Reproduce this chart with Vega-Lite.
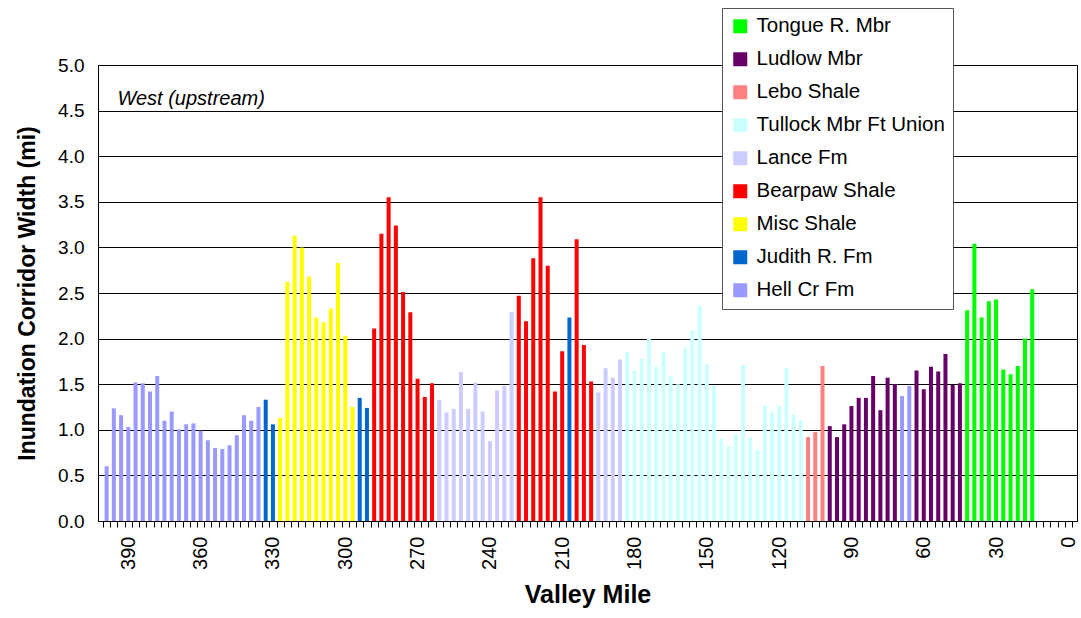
{
  "$schema": "https://vega.github.io/schema/vega-lite/v6.json",
  "width": 979,
  "height": 456,
  "autosize": {"type": "none"},
  "padding": {"left": 98, "top": 65, "right": 4, "bottom": 97},
  "background": "white",
  "config": {
    "font": "Liberation Sans",
    "view": {"stroke": "black", "strokeWidth": 1}
  },
  "datasets": {
    "bars": [
      {"mile": 399, "width": 0.60, "unit": "Hell Cr Fm"},
      {"mile": 396, "width": 1.235, "unit": "Hell Cr Fm"},
      {"mile": 393, "width": 1.16, "unit": "Hell Cr Fm"},
      {"mile": 390, "width": 1.03, "unit": "Hell Cr Fm"},
      {"mile": 387, "width": 1.52, "unit": "Hell Cr Fm"},
      {"mile": 384, "width": 1.51, "unit": "Hell Cr Fm"},
      {"mile": 381, "width": 1.42, "unit": "Hell Cr Fm"},
      {"mile": 378, "width": 1.59, "unit": "Hell Cr Fm"},
      {"mile": 375, "width": 1.10, "unit": "Hell Cr Fm"},
      {"mile": 372, "width": 1.20, "unit": "Hell Cr Fm"},
      {"mile": 369, "width": 1.005, "unit": "Hell Cr Fm"},
      {"mile": 366, "width": 1.06, "unit": "Hell Cr Fm"},
      {"mile": 363, "width": 1.07, "unit": "Hell Cr Fm"},
      {"mile": 360, "width": 0.99, "unit": "Hell Cr Fm"},
      {"mile": 357, "width": 0.885, "unit": "Hell Cr Fm"},
      {"mile": 354, "width": 0.80, "unit": "Hell Cr Fm"},
      {"mile": 351, "width": 0.79, "unit": "Hell Cr Fm"},
      {"mile": 348, "width": 0.83, "unit": "Hell Cr Fm"},
      {"mile": 345, "width": 0.94, "unit": "Hell Cr Fm"},
      {"mile": 342, "width": 1.16, "unit": "Hell Cr Fm"},
      {"mile": 339, "width": 1.10, "unit": "Hell Cr Fm"},
      {"mile": 336, "width": 1.25, "unit": "Hell Cr Fm"},
      {"mile": 333, "width": 1.33, "unit": "Judith R. Fm"},
      {"mile": 330, "width": 1.06, "unit": "Judith R. Fm"},
      {"mile": 327, "width": 1.13, "unit": "Misc Shale"},
      {"mile": 324, "width": 2.62, "unit": "Misc Shale"},
      {"mile": 321, "width": 3.13, "unit": "Misc Shale"},
      {"mile": 318, "width": 3.00, "unit": "Misc Shale"},
      {"mile": 315, "width": 2.68, "unit": "Misc Shale"},
      {"mile": 312, "width": 2.23, "unit": "Misc Shale"},
      {"mile": 309, "width": 2.18, "unit": "Misc Shale"},
      {"mile": 306, "width": 2.33, "unit": "Misc Shale"},
      {"mile": 303, "width": 2.83, "unit": "Misc Shale"},
      {"mile": 300, "width": 2.03, "unit": "Misc Shale"},
      {"mile": 297, "width": 1.25, "unit": "Misc Shale"},
      {"mile": 294, "width": 1.35, "unit": "Judith R. Fm"},
      {"mile": 291, "width": 1.24, "unit": "Judith R. Fm"},
      {"mile": 288, "width": 2.11, "unit": "Bearpaw Shale"},
      {"mile": 285, "width": 3.15, "unit": "Bearpaw Shale"},
      {"mile": 282, "width": 3.55, "unit": "Bearpaw Shale"},
      {"mile": 279, "width": 3.24, "unit": "Bearpaw Shale"},
      {"mile": 276, "width": 2.51, "unit": "Bearpaw Shale"},
      {"mile": 273, "width": 2.29, "unit": "Bearpaw Shale"},
      {"mile": 270, "width": 1.56, "unit": "Bearpaw Shale"},
      {"mile": 267, "width": 1.36, "unit": "Bearpaw Shale"},
      {"mile": 264, "width": 1.51, "unit": "Bearpaw Shale"},
      {"mile": 261, "width": 1.325, "unit": "Lance Fm"},
      {"mile": 258, "width": 1.19, "unit": "Lance Fm"},
      {"mile": 255, "width": 1.23, "unit": "Lance Fm"},
      {"mile": 252, "width": 1.63, "unit": "Lance Fm"},
      {"mile": 249, "width": 1.23, "unit": "Lance Fm"},
      {"mile": 246, "width": 1.52, "unit": "Lance Fm"},
      {"mile": 243, "width": 1.20, "unit": "Lance Fm"},
      {"mile": 240, "width": 0.876, "unit": "Lance Fm"},
      {"mile": 237, "width": 1.43, "unit": "Lance Fm"},
      {"mile": 234, "width": 1.48, "unit": "Lance Fm"},
      {"mile": 231, "width": 2.29, "unit": "Lance Fm"},
      {"mile": 228, "width": 2.47, "unit": "Bearpaw Shale"},
      {"mile": 225, "width": 2.19, "unit": "Bearpaw Shale"},
      {"mile": 222, "width": 2.88, "unit": "Bearpaw Shale"},
      {"mile": 219, "width": 3.55, "unit": "Bearpaw Shale"},
      {"mile": 216, "width": 2.80, "unit": "Bearpaw Shale"},
      {"mile": 213, "width": 1.42, "unit": "Bearpaw Shale"},
      {"mile": 210, "width": 1.86, "unit": "Bearpaw Shale"},
      {"mile": 207, "width": 2.23, "unit": "Judith R. Fm"},
      {"mile": 204, "width": 3.09, "unit": "Bearpaw Shale"},
      {"mile": 201, "width": 1.93, "unit": "Bearpaw Shale"},
      {"mile": 198, "width": 1.53, "unit": "Bearpaw Shale"},
      {"mile": 195, "width": 1.41, "unit": "Lance Fm"},
      {"mile": 192, "width": 1.675, "unit": "Lance Fm"},
      {"mile": 189, "width": 1.57, "unit": "Lance Fm"},
      {"mile": 186, "width": 1.77, "unit": "Lance Fm"},
      {"mile": 183, "width": 1.85, "unit": "Tullock Mbr Ft Union"},
      {"mile": 180, "width": 1.65, "unit": "Tullock Mbr Ft Union"},
      {"mile": 177, "width": 1.78, "unit": "Tullock Mbr Ft Union"},
      {"mile": 174, "width": 2.00, "unit": "Tullock Mbr Ft Union"},
      {"mile": 171, "width": 1.69, "unit": "Tullock Mbr Ft Union"},
      {"mile": 168, "width": 1.85, "unit": "Tullock Mbr Ft Union"},
      {"mile": 165, "width": 1.59, "unit": "Tullock Mbr Ft Union"},
      {"mile": 162, "width": 1.50, "unit": "Tullock Mbr Ft Union"},
      {"mile": 159, "width": 1.905, "unit": "Tullock Mbr Ft Union"},
      {"mile": 156, "width": 2.09, "unit": "Tullock Mbr Ft Union"},
      {"mile": 153, "width": 2.36, "unit": "Tullock Mbr Ft Union"},
      {"mile": 150, "width": 1.72, "unit": "Tullock Mbr Ft Union"},
      {"mile": 147, "width": 1.49, "unit": "Tullock Mbr Ft Union"},
      {"mile": 144, "width": 0.91, "unit": "Tullock Mbr Ft Union"},
      {"mile": 141, "width": 0.82, "unit": "Tullock Mbr Ft Union"},
      {"mile": 138, "width": 0.95, "unit": "Tullock Mbr Ft Union"},
      {"mile": 135, "width": 1.71, "unit": "Tullock Mbr Ft Union"},
      {"mile": 132, "width": 0.92, "unit": "Tullock Mbr Ft Union"},
      {"mile": 129, "width": 0.78, "unit": "Tullock Mbr Ft Union"},
      {"mile": 126, "width": 1.27, "unit": "Tullock Mbr Ft Union"},
      {"mile": 123, "width": 1.19, "unit": "Tullock Mbr Ft Union"},
      {"mile": 120, "width": 1.26, "unit": "Tullock Mbr Ft Union"},
      {"mile": 117, "width": 1.675, "unit": "Tullock Mbr Ft Union"},
      {"mile": 114, "width": 1.17, "unit": "Tullock Mbr Ft Union"},
      {"mile": 111, "width": 1.105, "unit": "Tullock Mbr Ft Union"},
      {"mile": 108, "width": 0.92, "unit": "Lebo Shale"},
      {"mile": 105, "width": 0.975, "unit": "Lebo Shale"},
      {"mile": 102, "width": 1.70, "unit": "Lebo Shale"},
      {"mile": 99, "width": 1.04, "unit": "Ludlow Mbr"},
      {"mile": 96, "width": 0.92, "unit": "Ludlow Mbr"},
      {"mile": 93, "width": 1.06, "unit": "Ludlow Mbr"},
      {"mile": 90, "width": 1.26, "unit": "Ludlow Mbr"},
      {"mile": 87, "width": 1.35, "unit": "Ludlow Mbr"},
      {"mile": 84, "width": 1.35, "unit": "Ludlow Mbr"},
      {"mile": 81, "width": 1.59, "unit": "Ludlow Mbr"},
      {"mile": 78, "width": 1.215, "unit": "Ludlow Mbr"},
      {"mile": 75, "width": 1.57, "unit": "Ludlow Mbr"},
      {"mile": 72, "width": 1.50, "unit": "Ludlow Mbr"},
      {"mile": 69, "width": 1.37, "unit": "Hell Cr Fm"},
      {"mile": 66, "width": 1.48, "unit": "Hell Cr Fm"},
      {"mile": 63, "width": 1.65, "unit": "Ludlow Mbr"},
      {"mile": 60, "width": 1.445, "unit": "Ludlow Mbr"},
      {"mile": 57, "width": 1.69, "unit": "Ludlow Mbr"},
      {"mile": 54, "width": 1.64, "unit": "Ludlow Mbr"},
      {"mile": 51, "width": 1.83, "unit": "Ludlow Mbr"},
      {"mile": 48, "width": 1.49, "unit": "Ludlow Mbr"},
      {"mile": 45, "width": 1.51, "unit": "Ludlow Mbr"},
      {"mile": 42, "width": 2.31, "unit": "Tongue R. Mbr"},
      {"mile": 39, "width": 3.04, "unit": "Tongue R. Mbr"},
      {"mile": 36, "width": 2.23, "unit": "Tongue R. Mbr"},
      {"mile": 33, "width": 2.41, "unit": "Tongue R. Mbr"},
      {"mile": 30, "width": 2.43, "unit": "Tongue R. Mbr"},
      {"mile": 27, "width": 1.66, "unit": "Tongue R. Mbr"},
      {"mile": 24, "width": 1.61, "unit": "Tongue R. Mbr"},
      {"mile": 21, "width": 1.70, "unit": "Tongue R. Mbr"},
      {"mile": 18, "width": 2.00, "unit": "Tongue R. Mbr"},
      {"mile": 15, "width": 2.54, "unit": "Tongue R. Mbr"}
    ],
    "note": [
      {"mile": 394.5, "width": 4.63, "label": "West (upstream)"}
    ]
  },
  "layer": [
    {
      "data": {"name": "bars"},
      "mark": {"type": "bar", "width": 4},
      "encoding": {
        "x": {
          "field": "mile", "type": "quantitative",
          "scale": {"domain": [-1.5, 400.5], "reverse": true, "nice": false, "zero": false},
          "axis": {
            "values": [390, 360, 330, 300, 270, 240, 210, 180, 150, 120, 90, 60, 30, 0],
            "labelAngle": -90, "labelFontSize": 20, "labelColor": "black",
            "labelPadding": 15, "ticks": false, "domain": false, "grid": false,
            "title": "Valley Mile", "titleFontSize": 25, "titleFontWeight": "bold",
            "titleColor": "black", "titlePadding": 13, "orient": "bottom",
            "labelFlush": false, "labelOverlap": false
          }
        },
        "y": {
          "field": "width", "type": "quantitative",
          "scale": {"domain": [0, 5], "nice": false},
          "axis": {
            "values": [0, 0.5, 1, 1.5, 2, 2.5, 3, 3.5, 4, 4.5, 5],
            "format": ".1f", "labelFontSize": 19, "labelColor": "black",
            "grid": true, "gridColor": "black", "gridWidth": 1,
            "domainColor": "black", "ticks": false,
            "labelPadding": 14,
            "title": "Inundation Corridor Width (mi)", "titleFontSize": 23,
            "titleFontWeight": "bold", "titleColor": "black", "titlePadding": 18
          }
        },
        "color": {
          "field": "unit", "type": "nominal",
          "scale": {
            "domain": ["Tongue R. Mbr", "Ludlow Mbr", "Lebo Shale", "Tullock Mbr Ft Union", "Lance Fm", "Bearpaw Shale", "Misc Shale", "Judith R. Fm", "Hell Cr Fm"],
            "range": ["#00FF00", "#660066", "#FF8080", "#CCFFFF", "#CCCCFF", "#FF0000", "#FFFF00", "#0066CC", "#9999FF"]
          },
          "legend": {
            "title": null, "orient": "none", "legendX": 624, "legendY": -57,
            "symbolType": "square", "symbolSize": 196, "symbolStrokeWidth": 0,
            "labelFontSize": 20.5, "labelColor": "black", "labelLimit": 300,
            "rowPadding": 12, "labelOffset": 6, "padding": 8,
            "strokeColor": "#555555", "fillColor": "white"
          }
        }
      }
    },
    {
      "data": {"name": "note"},
      "mark": {"type": "text", "align": "left", "baseline": "middle", "fontStyle": "italic", "fontSize": 20, "color": "black"},
      "encoding": {
        "x": {
          "field": "mile", "type": "quantitative",
          "scale": {"domain": [-1.5, 400.5], "reverse": true, "nice": false, "zero": false},
          "axis": {
            "values": [400.5, 397.5, 394.5, 391.5, 388.5, 385.5, 382.5, 379.5, 376.5, 373.5, 370.5, 367.5, 364.5, 361.5, 358.5, 355.5, 352.5, 349.5, 346.5, 343.5, 340.5, 337.5, 334.5, 331.5, 328.5, 325.5, 322.5, 319.5, 316.5, 313.5, 310.5, 307.5, 304.5, 301.5, 298.5, 295.5, 292.5, 289.5, 286.5, 283.5, 280.5, 277.5, 274.5, 271.5, 268.5, 265.5, 262.5, 259.5, 256.5, 253.5, 250.5, 247.5, 244.5, 241.5, 238.5, 235.5, 232.5, 229.5, 226.5, 223.5, 220.5, 217.5, 214.5, 211.5, 208.5, 205.5, 202.5, 199.5, 196.5, 193.5, 190.5, 187.5, 184.5, 181.5, 178.5, 175.5, 172.5, 169.5, 166.5, 163.5, 160.5, 157.5, 154.5, 151.5, 148.5, 145.5, 142.5, 139.5, 136.5, 133.5, 130.5, 127.5, 124.5, 121.5, 118.5, 115.5, 112.5, 109.5, 106.5, 103.5, 100.5, 97.5, 94.5, 91.5, 88.5, 85.5, 82.5, 79.5, 76.5, 73.5, 70.5, 67.5, 64.5, 61.5, 58.5, 55.5, 52.5, 49.5, 46.5, 43.5, 40.5, 37.5, 34.5, 31.5, 28.5, 25.5, 22.5, 19.5, 16.5, 13.5, 10.5, 7.5, 4.5, 1.5, -1.5],
            "labels": false, "ticks": true, "tickSize": 6, "tickColor": "black",
            "domain": true, "domainColor": "black", "grid": false, "title": null,
            "orient": "bottom"
          }
        },
        "y": {"field": "width", "type": "quantitative", "scale": {"domain": [0, 5], "nice": false}},
        "text": {"field": "label"}
      }
    }
  ],
  "resolve": {"axis": {"x": "independent"}}
}
